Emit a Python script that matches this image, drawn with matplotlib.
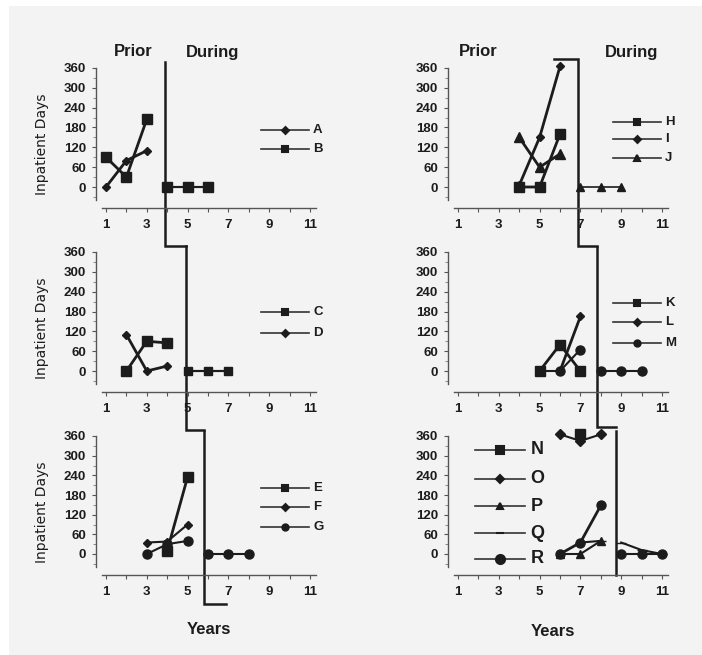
import matplotlib
matplotlib.use("Agg")
from matplotlib import pyplot as plt
from matplotlib.patches import Rectangle

plt.rcParams['font.family'] = ['Liberation Sans', 'DejaVu Sans']

# ---- data (years, inpatient days) ----
# panel 1
A_x, A_y = [1, 2, 3], [0, 80, 110]
B_x, B_y = [1, 2, 3], [90, 30, 205]
AB_during_x, AB_during_y = [4, 5, 6], [0, 0, 0]
# panel 2
C_x, C_y = [2, 3, 4], [0, 90, 85]
D_x, D_y = [2, 3, 4], [110, 0, 15]
CD_during_x, CD_during_y = [5, 6, 7], [0, 0, 0]
# panel 3
E_x, E_y = [4, 5], [10, 235]
F_x, F_y = [3, 4, 5], [35, 38, 90]
G_x, G_y = [3, 4, 5], [0, 30, 40]
EFG_during_x, EFG_during_y = [6, 7, 8], [0, 0, 0]
# panel 4
H_x, H_y = [4, 5, 6], [0, 0, 160]
I_x, I_y = [4, 5, 6], [5, 150, 365]
J_x, J_y = [4, 5, 6], [150, 60, 100]
HIJ_during_x, HIJ_during_y = [7, 8, 9], [0, 0, 0]
# panel 5
K_x, K_y = [5, 6, 7], [0, 80, 0]
L_x, L_y = [6, 7], [0, 165]
M_x, M_y = [5, 6, 7], [0, 0, 65]
KLM_during_x, KLM_during_y = [8, 9, 10], [0, 0, 0]
# panel 6
N_x, N_y = [7], [365]
O_x, O_y = [6, 7, 8], [365, 345, 365]
P_x, P_y = [6, 7, 8], [0, 0, 40]
Q_x, Q_y = [7, 8], [35, 40]
R_x, R_y = [6, 7, 8], [0, 35, 148]
Q_during_x, Q_during_y = [9, 10, 11], [35, 12, 0]
R_during_x, R_during_y = [9, 10, 11], [0, 0, 0]

y_ticks = [0, 60, 120, 180, 240, 300, 360]
x_ticks = list(range(1, 12))

INK = '#1c1c1c'
W, H = 702, 655
XLIM = (0.5, 11.3)
YLIM = (-64, 372)
SX = 20.4

fig = plt.figure(figsize=(W / 100, H / 100), dpi=100, facecolor='white')
fig.patches.append(Rectangle((9 / W, 0), 1 - 9 / W, 1 - 6 / H, transform=fig.transFigure,
                             facecolor='#f3f3f3', edgecolor='none', zorder=-10))


def make_axes(x1_px, y0_px, y360_px):
    sy = (y0_px - y360_px) / 360
    left = x1_px + (XLIM[0] - 1) * SX
    right = x1_px + (XLIM[1] - 1) * SX
    bottom = y0_px - YLIM[0] * sy
    top = y0_px - YLIM[1] * sy
    ax = fig.add_axes([left / W, 1 - bottom / H, (right - left) / W, (bottom - top) / H])
    ax.set_facecolor('none')
    ax.set_xlim(*XLIM)
    ax.set_ylim(*YLIM)
    for s in ['top', 'right']:
        ax.spines[s].set_visible(False)
    ax.spines['left'].set_bounds(-40, 360)
    ax.spines['bottom'].set_bounds(0.8, 11.3)
    for s in ['left', 'bottom']:
        ax.spines[s].set_color('#555555')
        ax.spines[s].set_linewidth(1.0)
    ax.set_yticks(y_ticks)
    ax.set_yticks(range(-30, 361, 30), minor=True)
    ax.set_xticks(x_ticks)
    ax.set_xticklabels([str(t) if t % 2 == 1 else '' for t in x_ticks])
    ax.tick_params(axis='both', which='major', length=3, width=0.8, color='#555555',
                   labelsize=9.5, labelcolor=INK)
    ax.tick_params(axis='y', which='minor', length=2, width=0.6, color='#777777')
    ax.tick_params(axis='y', pad=4)
    ax.tick_params(axis='x', pad=5)
    for lab in ax.get_xticklabels() + ax.get_yticklabels():
        lab.set_fontweight('bold')
    return ax


def series(ax, x, y, marker, ms, lw=2.0):
    ax.plot(x, y, color=INK, lw=lw, marker=marker, ms=ms, mfc=INK, mec=INK, clip_on=False)


def key(ax, y, label, marker, ms, x0=8.6, x1=10.95, xt=11.15, fs=9.5):
    ax.plot([x0, x1], [y, y], color='#333333', lw=1.2, clip_on=False)
    ax.plot([(x0 + x1) / 2], [y], marker=marker, ms=ms, color=INK, mew=1.5, clip_on=False)
    ax.text(xt, y, label, ha='left', va='center', fontsize=fs, fontweight='bold', color=INK)


def phase(ax, xs, ys):
    ax.plot(xs, ys, color=INK, lw=1.8, clip_on=False, solid_joinstyle='miter')


rows = [(187, 68), (371, 252), (554, 436)]
ax1 = make_axes(106, *rows[0])
ax2 = make_axes(106, *rows[1])
ax3 = make_axes(106, *rows[2])
ax4 = make_axes(458, *rows[0])
ax5 = make_axes(458, *rows[1])
ax6 = make_axes(458, *rows[2])

# panel 1
series(ax1, A_x, A_y, 'D', 4.5)
series(ax1, B_x, B_y, 's', 7.5)
series(ax1, AB_during_x, AB_during_y, 'D', 4.5, lw=1.5)
series(ax1, AB_during_x, AB_during_y, 's', 7.5, lw=1.5)
key(ax1, 172, 'A', 'D', 3.5)
key(ax1, 115, 'B', 's', 4)
phase(ax1, [3.9, 3.9, 4.9], [378, -178, -178])

# panel 2
series(ax2, C_x, C_y, 's', 7.5)
series(ax2, D_x, D_y, 'D', 4.5)
series(ax2, CD_during_x, CD_during_y, 's', 6, lw=1.5)
series(ax2, CD_during_x, CD_during_y, 'x', 6, lw=1.5)
key(ax2, 178, 'C', 's', 4)
key(ax2, 115, 'D', 'D', 3.5)
phase(ax2, [4.9, 4.9, 5.8], [378, -178, -178])

# panel 3
series(ax3, F_x, F_y, 'D', 4.5, lw=1.5)
series(ax3, G_x, G_y, 'o', 6.5, lw=1.5)
series(ax3, E_x, E_y, 's', 7.5)
series(ax3, EFG_during_x, EFG_during_y, 'o', 6.5, lw=1.5)
key(ax3, 200, 'E', 's', 4)
key(ax3, 142, 'F', 'D', 3.5)
key(ax3, 82, 'G', 'o', 4.5)
phase(ax3, [5.8, 5.8, 6.9], [375, -154, -154])

# panel 4
series(ax4, H_x, H_y, 's', 7.5)
series(ax4, I_x, I_y, 'D', 4.5)
series(ax4, J_x, J_y, '^', 6.5)
series(ax4, HIJ_during_x, HIJ_during_y, '^', 6, lw=1.2)
key(ax4, 198, 'H', 's', 4)
key(ax4, 144, 'I', 'D', 3.5)
key(ax4, 87, 'J', '^', 4)
phase(ax4, [5.7, 6.86, 6.86, 7.8], [387, 387, -177, -177])

# panel 5
series(ax5, K_x, K_y, 's', 7.5)
series(ax5, L_x, L_y, 'D', 4.5)
series(ax5, M_x, M_y, 'o', 6.5, lw=1.5)
series(ax5, KLM_during_x, KLM_during_y, 'o', 6.5, lw=1.5)
key(ax5, 207, 'K', 's', 4)
key(ax5, 147, 'L', 'D', 3.5)
key(ax5, 84, 'M', 'o', 4.5)
phase(ax5, [7.8, 7.8, 8.73], [375, -168, -168])

# panel 6
series(ax6, O_x, O_y, 'D', 5, lw=1.5)
series(ax6, N_x, N_y, 's', 7)
series(ax6, P_x, P_y, '^', 6, lw=1.5)
series(ax6, Q_x, Q_y, '_', 7, lw=1.5)
series(ax6, R_x, R_y, 'o', 6.5)
series(ax6, Q_during_x, Q_during_y, '_', 7, lw=1.5)
series(ax6, R_during_x, R_during_y, 'o', 6.5, lw=1.5)
for yy, lab, mk, ms in [(318, 'N', 's', 6), (230, 'O', 'D', 4), (145, 'P', '^', 5),
                        (64, 'Q', '_', 6), (-15, 'R', 'o', 6.5)]:
    key(ax6, yy, lab, mk, ms, x0=1.84, x1=4.3, xt=4.55, fs=13)
phase(ax6, [8.73, 8.73], [375, -64])

# y labels
for ax in (ax1, ax2, ax3):
    ax.text(-2.15, 128, 'Inpatient Days', rotation=90, ha='center', va='center',
            fontsize=10, color=INK, family=['Liberation Sans Narrow', 'DejaVu Sans'])

# phase headers
hdr = dict(ha='center', va='center', fontsize=12, fontweight='bold', color=INK)
fig.text(133 / W, 1 - 52 / H, 'Prior', **hdr)
fig.text(213 / W, 1 - 52 / H, 'During', **hdr)
fig.text(478 / W, 1 - 52 / H, 'Prior', **hdr)
fig.text(632 / W, 1 - 52 / H, 'During', **hdr)
fig.text(209 / W, 1 - 630 / H, 'Years', **hdr)
fig.text(553 / W, 1 - 631 / H, 'Years', **hdr)

fig.savefig('out.png', dpi=100, facecolor=fig.get_facecolor())
